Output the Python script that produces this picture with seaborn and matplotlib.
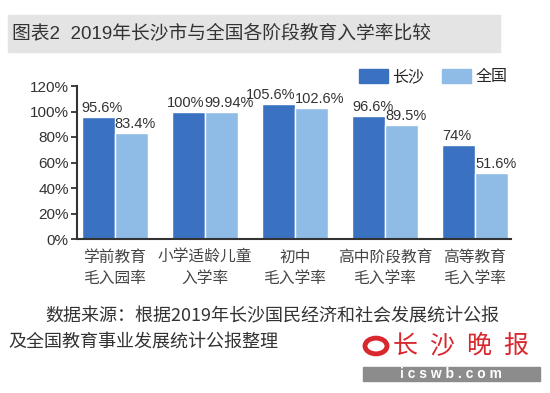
import pandas as pd
import matplotlib.pyplot as plt
import seaborn as sns
from matplotlib.patches import Rectangle, Circle

# ---------------------------------------------------
# Data
# ---------------------------------------------------
categories = ["学前教育\n毛入园率", "小学适龄儿童\n入学率", "初中\n毛入学率",
              "高中阶段教育\n毛入学率", "高等教育\n毛入学率"]
changsha = [95.6, 100, 105.6, 96.6, 74]
national = [83.4, 99.94, 102.6, 89.5, 51.6]
changsha_labels = ["95.6%", "100%", "105.6%", "96.6%", "74%"]
national_labels = ["83.4%", "99.94%", "102.6%", "89.5%", "51.6%"]
series = ["长沙", "全国"]
yticks = [0, 20, 40, 60, 80, 100, 120]

df = pd.DataFrame({
    "类别": categories * 2,
    "入学率": changsha + national,
    "地区": [series[0]] * len(categories) + [series[1]] * len(categories),
})

sns.set_style("white")
plt.rcParams["font.family"] = ["Liberation Sans", "Noto Sans CJK SC"]

W, H = 550, 393


def fx(x):
    return x / W


def fy(y):
    return 1 - y / H


fig = plt.figure(figsize=(5.5, 3.93), dpi=100)
fig.patch.set_facecolor("white")
ax = fig.add_axes([fx(77), fy(239), fx(511) - fx(77), fy(86) - fy(239)])

palette = {"长沙": "#3a72c1", "全国": "#8ebce6"}
sns.barplot(data=df, x="类别", y="入学率", hue="地区", palette=palette,
            width=0.733, saturation=1, ax=ax, legend=False)

ax.set_xlim(-0.42, 4.4)
ax.set_ylim(0, 120)
ax.set_yticks(yticks)
ax.set_yticklabels([f"{t}%" for t in yticks], fontsize=11, color="#333333")
ax.set_xlabel("")
ax.set_ylabel("")
ax.tick_params(axis="y", direction="out", length=4, width=1.3, color="#333333", pad=2, left=True)
ax.tick_params(axis="x", length=0, pad=7)
for lbl in ax.get_xticklabels():
    lbl.set_fontfamily("Noto Sans CJK SC")
    lbl.set_fontsize(11.3)
    lbl.set_color("#444444")
    lbl.set_linespacing(1.3)
    lbl.set_fontweight("medium")

for s in ["top", "right"]:
    ax.spines[s].set_visible(False)
for s in ["left", "bottom"]:
    ax.spines[s].set_color("#333333")
    ax.spines[s].set_linewidth(1.5)

# value labels: Changsha label moves to the right edge when it would collide
cs_bars, nat_bars = ax.containers[0], ax.containers[1]
for i, (b1, b2) in enumerate(zip(cs_bars, nat_bars)):
    if abs(changsha[i] - national[i]) < 5:
        ax.text(b1.get_x() + b1.get_width(), b1.get_height() + 1.5, changsha_labels[i],
                ha="right", va="bottom", fontsize=10.5, color="#333333", clip_on=False)
    else:
        ax.text(b1.get_x(), b1.get_height() + 1.5, changsha_labels[i],
                ha="left", va="bottom", fontsize=10.5, color="#333333", clip_on=False)
    ax.text(b2.get_x(), b2.get_height() + 1.5, national_labels[i],
            ha="left", va="bottom", fontsize=10.5, color="#333333", clip_on=False)

# legend
handles = [Rectangle((0, 0), 1, 1, color=palette[s]) for s in series]
fig.legend(handles, series, loc="center left", bbox_to_anchor=(fx(359), fy(77)),
           ncol=2, frameon=False, handlelength=1.8, handleheight=0.9,
           handletextpad=0.3, columnspacing=1.1, borderpad=0, borderaxespad=0,
           prop={"family": "Noto Sans CJK SC", "size": 11.5, "weight": "medium"})

# title band
fig.patches.append(Rectangle((fx(8), fy(52)), fx(500) - fx(8), fy(15) - fy(52),
                             transform=fig.transFigure, color="#e4e4e4", zorder=0))
fig.text(fx(12), fy(34), "图表2  2019年长沙市与全国各阶段教育入学率比较",
         fontsize=13.5, color="#333333", va="center", ha="left", weight="medium")

# source note
fig.text(fx(45), fy(316), "数据来源：根据2019年长沙国民经济和社会发展统计公报",
         fontsize=13, color="#333333", va="center", ha="left",
         family=["Noto Sans CJK SC"], weight="light")
fig.text(fx(8), fy(343), "及全国教育事业发展统计公报整理",
         fontsize=13, color="#333333", va="center", ha="left",
         family=["Noto Sans CJK SC"], weight="light")

# newspaper logo
fig.patches.append(Circle((fx(376), fy(346)), 0.02, transform=fig.transFigure,
                          facecolor="none", edgecolor="#d8282e", linewidth=3.5))
for k, ch in enumerate("长沙晚报"):
    fig.text(fx(405 + k * 37), fy(346), ch, fontsize=18, color="#d8282e",
             weight="medium", style="italic", ha="center", va="center",
             family=["Noto Sans CJK SC"])
fig.patches.append(Rectangle((fx(363), fy(381)), fx(540) - fx(363), fy(367) - fy(381),
                             transform=fig.transFigure, color="#8c8c8c", zorder=0))
fig.text(fx(451), fy(374), "i c s w b . c o m", fontsize=10, color="white",
         weight="bold", ha="center", va="center")

fig.savefig("out.png", dpi=100)
